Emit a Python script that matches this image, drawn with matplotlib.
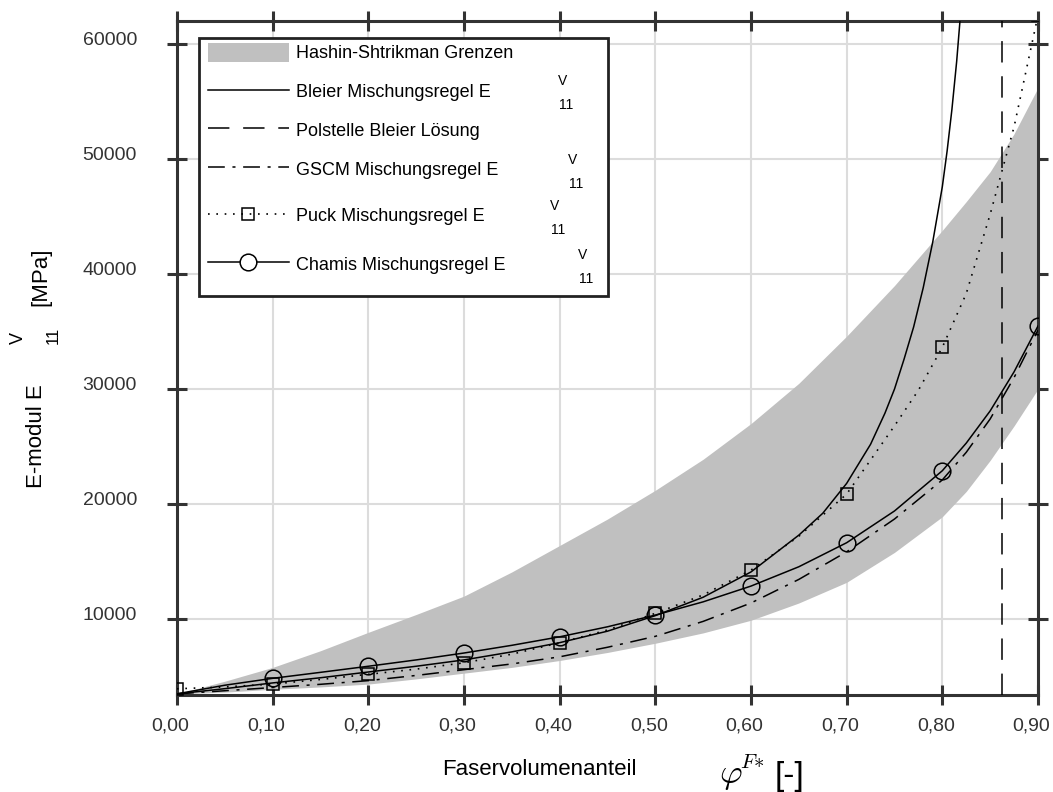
import matplotlib
matplotlib.use('Agg')
import matplotlib.pyplot as plt
import matplotlib.transforms as mtransforms
from matplotlib.lines import Line2D
from matplotlib.patches import Patch, Rectangle

plt.rcParams['font.family'] = ['Liberation Sans', 'DejaVu Sans']
plt.rcParams['mathtext.fontset'] = 'cm'

W, H = 1053, 792

# Faservolumenanteil (gemeinsames Raster)
phi = [0.00, 0.05, 0.10, 0.15, 0.20, 0.25, 0.30, 0.35, 0.40, 0.45, 0.50,
       0.55, 0.60, 0.65, 0.70, 0.75, 0.80, 0.825, 0.85, 0.875, 0.90]

hs_upper = [3500, 4600, 5800, 7250, 8850, 10400, 12000, 14100, 16400, 18700, 21200,
            23900, 27000, 30500, 34600, 39000, 43800, 46300, 48900, 52200, 56200]
hs_lower = [3500, 3650, 3900, 4100, 4350, 4800, 5300, 5800, 6400, 7100, 7900,
            8800, 9900, 11400, 13200, 15800, 18900, 21100, 23800, 26800, 30000]
gscm = [3500, 3770, 4050, 4330, 4650, 5100, 5600, 6100, 6720, 7550, 8500,
        9800, 11400, 13450, 15850, 18700, 22100, 24500, 27400, 31000, 35130]
chamis = [3500, 4250, 4850, 5370, 5900, 6450, 7050, 7720, 8460, 9330, 10350,
          11500, 12870, 14550, 16640, 19400, 22900, 25300, 28100, 31500, 35480]

puck_phi = [0.00, 0.05, 0.10, 0.15, 0.20, 0.25, 0.30, 0.35, 0.40, 0.45, 0.50,
            0.55, 0.60, 0.65, 0.70, 0.75, 0.775, 0.80, 0.825, 0.85, 0.875, 0.90]
puck = [3940, 4100, 4350, 4750, 5200, 5650, 6200, 6950, 7940, 9050, 10500,
        12100, 14260, 17200, 20870, 26800, 29900, 33630, 38300, 45200, 52800, 62500]

bleier_phi = [0.00, 0.05, 0.10, 0.15, 0.20, 0.25, 0.30, 0.35, 0.40, 0.45, 0.50,
              0.55, 0.60, 0.65, 0.675, 0.70, 0.725, 0.74, 0.75, 0.76, 0.77,
              0.78, 0.79, 0.80, 0.805, 0.81, 0.815, 0.82]
bleier = [3500, 3950, 4450, 4900, 5400, 5900, 6450, 7150, 7950, 8950, 10300,
          11900, 14100, 17300, 19200, 21800, 25200, 27900, 30000, 32600, 35400,
          38800, 42800, 47600, 50700, 54300, 58500, 63600]

pole_phi = 0.862

chamis_marker_phi = [0.1, 0.2, 0.3, 0.4, 0.5, 0.6, 0.7, 0.8, 0.9]
chamis_marker = [4850, 5900, 7050, 8460, 10350, 12870, 16640, 22900, 35480]
puck_marker_phi = [0.0, 0.1, 0.2, 0.3, 0.4, 0.5, 0.6, 0.7, 0.8, 0.9]
puck_marker = [3940, 4350, 5200, 6200, 7940, 10500, 14260, 20870, 33630, 62500]

xticks = [0.0, 0.1, 0.2, 0.3, 0.4, 0.5, 0.6, 0.7, 0.8, 0.9]
xtick_labels = ['0,00', '0,10', '0,20', '0,30', '0,40', '0,50', '0,60', '0,70', '0,80', '0,90']
yticks = [10000, 20000, 30000, 40000, 50000, 60000]
ytick_labels = ['10000', '20000', '30000', '40000', '50000', '60000']

legend_labels = ['Hashin-Shtrikman Grenzen', 'Bleier Mischungsregel E', 'Polstelle Bleier Lösung',
                 'GSCM Mischungsregel E', 'Puck Mischungsregel E', 'Chamis Mischungsregel E']

DASHED = (0, (14, 9))
DASHDOT = (0, (11, 5, 2, 5))
DOTTED = (0, (1, 4))
BAND = '#c0c0c0'
SPINE = '#333333'


def fx(x):
    return x / W


def fy(y):
    return 1 - y / H


def ax_xy(x, y):
    # Pixel der Vorlage -> Achsenkoordinaten
    return (x - 177) / 861, (695 - y) / 674


fig = plt.figure(figsize=(W / 100, H / 100), dpi=100)
ax = fig.add_axes([fx(177), fy(695), 861 / W, 674 / H])

ax.fill_between(phi, hs_lower, hs_upper, color=BAND, lw=0, zorder=1)
ax.plot(bleier_phi, bleier, color='k', lw=1.1, zorder=3)
ax.axvline(pole_phi, color='k', lw=1.1, ls=DASHED, zorder=3)
ax.plot(phi, gscm, color='k', lw=1.1, ls=DASHDOT, zorder=3)
ax.plot(puck_phi, puck, color='k', lw=1.2, ls=DOTTED, zorder=3)
ax.plot(puck_marker_phi, puck_marker, ls='none', marker='s', ms=9, mfc='none',
        mec='k', mew=1.1, zorder=4)
ax.plot(phi, chamis, color='k', lw=1.1, zorder=3)
ax.plot(chamis_marker_phi, chamis_marker, ls='none', marker='o', ms=12, mfc='none',
        mec='k', mew=1.1, zorder=4)

ax.set_xlim(0, 0.9)
ax.set_ylim(3400, 62000)
ax.set_xticks(xticks, xtick_labels)
ax.set_yticks(yticks, ytick_labels)
ax.set_axisbelow(True)
ax.grid(True, color='#dcdcdc', lw=1.5)
for s in ax.spines.values():
    s.set_color(SPINE)
    s.set_linewidth(2.2)
ax.tick_params(direction='inout', length=13.7, width=2.2, color=SPINE,
               top=True, right=True, labelsize=14, labelcolor='#333333')
ax.tick_params(axis='x', pad=9)
ax.tick_params(axis='y', pad=22)

# Beschriftungen in der Vorlage leicht versetzt
dx = mtransforms.ScaledTranslation(-6.5 / 100, 0, fig.dpi_scale_trans)
dy = mtransforms.ScaledTranslation(0, 5.5 / 100, fig.dpi_scale_trans)
for lab in ax.get_xticklabels():
    lab.set_transform(lab.get_transform() + dx)
for lab in ax.get_yticklabels():
    lab.set_transform(lab.get_transform() + dy)

# Legende: Rahmen separat, Zeilen in zwei Gruppen wie in der Vorlage
bx0, by1 = ax_xy(199, 38)
bx1, by0 = ax_xy(608, 296)
ax.add_patch(Rectangle((bx0, by0), bx1 - bx0, by1 - by0, transform=ax.transAxes,
                       fc='white', ec='#222222', lw=2, zorder=4.9))

handles = [
    Patch(facecolor=BAND, edgecolor='none'),
    Line2D([], [], color='k', lw=1.1),
    Line2D([], [], color='k', lw=1.1, ls=DASHED),
    Line2D([], [], color='k', lw=1.1, ls=DASHDOT),
    Line2D([], [], color='k', lw=1.2, ls=DOTTED, marker='s', ms=9, mfc='none', mec='k', mew=1.1),
    Line2D([], [], color='k', lw=1.1, marker='o', ms=12, mfc='white', mec='k', mew=1.1),
]
leg_kw = dict(loc='upper left', borderaxespad=0, fontsize=13, handlelength=4.5,
              handleheight=1.2, handletextpad=0.4, borderpad=0.3, frameon=False)
leg1 = ax.legend(handles[:4], legend_labels[:4], bbox_to_anchor=ax_xy(202.3, 37.6),
                 labelspacing=1.08, **leg_kw)
ax.add_artist(leg1)
ax.legend(handles[4:], legend_labels[4:], bbox_to_anchor=ax_xy(202.3, 200.6),
          labelspacing=1.6, **leg_kw)

# hochgestellte / tiefgestellte Indizes in der Legende
for (vx, vy), (ix, iy) in [((562.5, 81), (565.8, 105)), ((573, 160), (576.2, 184)),
                           ((554.5, 206), (557.8, 230)), ((582.8, 255), (586, 279))]:
    fig.text(fx(vx), fy(vy), 'V', fontsize=10, ha='center', va='center')
    fig.text(fx(ix), fy(iy), '11', fontsize=10, ha='center', va='center')

# Achsenbeschriftungen
fig.text(fx(539), fy(775), 'Faservolumenanteil', fontsize=16, ha='center', va='baseline')
fig.text(fx(719), fy(783), r'$\varphi$', fontsize=25, ha='left', va='baseline')
fig.text(fx(740), fy(768.5), r'$F{*}$', fontsize=15, ha='left', va='baseline')
fig.text(fx(775), fy(785), '[-]', fontsize=24, ha='left', va='baseline')

fig.text(fx(42), fy(436), 'E-modul E', fontsize=16, rotation=90, rotation_mode='anchor',
         ha='center', va='baseline')
fig.text(fx(18.5), fy(338), 'V', fontsize=13, rotation=90, ha='center', va='center')
fig.text(fx(53), fy(335.5), '11', fontsize=12, rotation=90, ha='center', va='center')
fig.text(fx(46.5), fy(276.5), '[MPa]', fontsize=16, rotation=90, rotation_mode='anchor',
         ha='center', va='baseline')

fig.savefig('out.png', dpi=100)
